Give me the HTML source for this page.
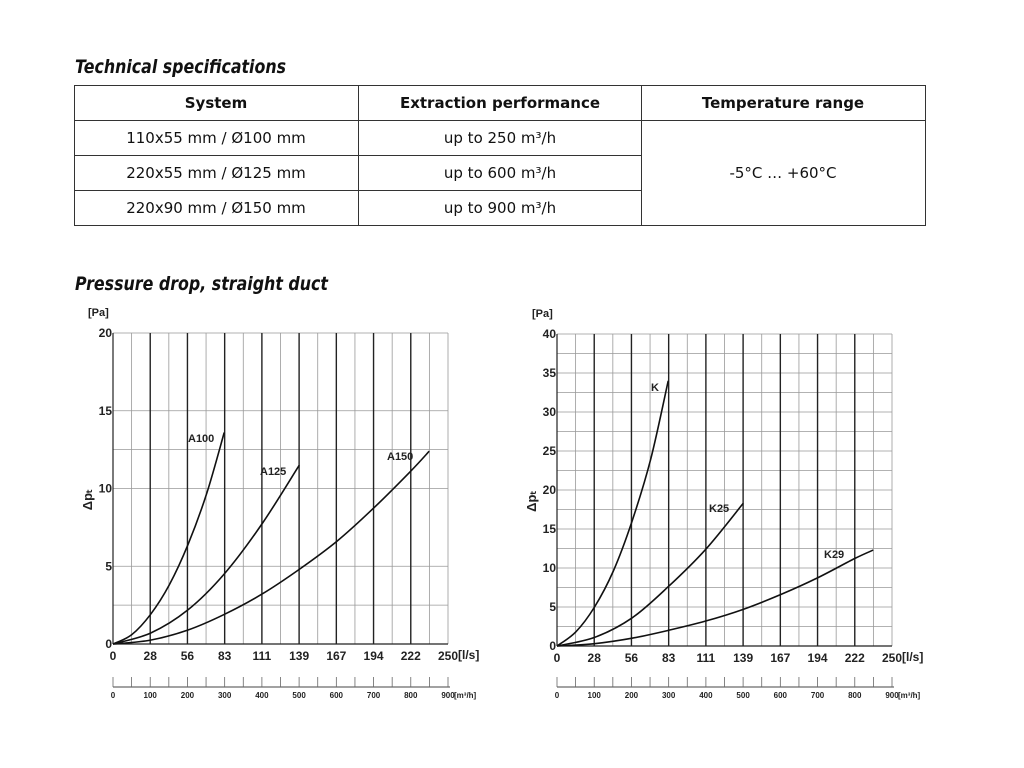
<!DOCTYPE html>
<html><head><meta charset="utf-8"><style>
body{margin:0;background:#fff;}
svg{display:block;font-family:"Liberation Sans",sans-serif;}
.t{font-family:"DejaVu Sans","Liberation Sans",sans-serif;}
</style></head><body>
<svg width="1024" height="768" viewBox="0 0 1024 768" xmlns="http://www.w3.org/2000/svg">
<text x="75" y="73" font-size="19" font-weight="bold" font-style="italic" class="t" fill="#111" textLength="211" lengthAdjust="spacingAndGlyphs">Technical specifications</text>
<g stroke="#333" stroke-width="1" fill="none">
<rect x="74.5" y="85.5" width="851" height="140"/>
<line x1="74" y1="120.5" x2="926" y2="120.5"/>
<line x1="74" y1="155.5" x2="641" y2="155.5"/>
<line x1="74" y1="190.5" x2="641" y2="190.5"/>
<line x1="358.5" y1="85" x2="358.5" y2="226"/>
<line x1="641.5" y1="85" x2="641.5" y2="226"/>
</g>
<g font-size="15" text-anchor="middle" fill="#111" class="t">
<text x="216" y="108" font-weight="bold">System</text>
<text x="500" y="108" font-weight="bold">Extraction performance</text>
<text x="783" y="108" font-weight="bold">Temperature range</text>
<text x="216" y="143">110x55 mm / Ø100 mm</text>
<text x="216" y="178">220x55 mm / Ø125 mm</text>
<text x="216" y="213">220x90 mm / Ø150 mm</text>
<text x="500" y="143">up to 250 m³/h</text>
<text x="500" y="178">up to 600 m³/h</text>
<text x="500" y="213">up to 900 m³/h</text>
<text x="783" y="178">-5°C … +60°C</text>
</g>
<text x="75" y="290" font-size="19" font-weight="bold" font-style="italic" class="t" fill="#111" textLength="253" lengthAdjust="spacingAndGlyphs">Pressure drop, straight duct</text>
<g id="charts"></g>
<rect x="0" y="722" width="1024" height="46" fill="#fff"/>
</svg>
<script>
var NS="http://www.w3.org/2000/svg",root=document.getElementById("charts");
function el(n,a,t){var e=document.createElementNS(NS,n);for(var k in a)e.setAttribute(k,a[k]);if(t!==undefined)e.textContent=t;root.appendChild(e);return e;}
function chart(x0,y0,ytop,ymax,ystep,hl,curves,names){
 var W=335,H=y0-ytop,sx=W/250,sy=H/ymax;
 hl.forEach(function(v){var y=y0-v*sy;el("line",{x1:x0,x2:x0+W,y1:y,y2:y,stroke:"#999","stroke-width":0.8});});
 for(var i=0;i<=18;i++){var x=x0+i*W/18;var th=(i%2==0&&i>0&&i<18);el("line",{x1:x,x2:x,y1:ytop,y2:y0,stroke:th?"#222":"#999","stroke-width":th?1.4:0.8});}
 el("line",{x1:x0,x2:x0,y1:ytop,y2:y0,stroke:"#222","stroke-width":1.2});
 el("line",{x1:x0,x2:x0+W,y1:y0,y2:y0,stroke:"#222","stroke-width":1.2});
 for(var v=0;v<=ymax;v+=ystep){el("text",{x:x0-1,y:y0-v*sy+4,"font-size":12,"font-weight":"bold","text-anchor":"end",fill:"#222"},String(v));}
 var xl=[0,28,56,83,111,139,167,194,222,250];
 for(var i=0;i<10;i++)el("text",{x:x0+i*W/9,y:y0+16,"font-size":12,"font-weight":"bold","text-anchor":"middle",fill:"#222"},String(xl[i]));
 el("text",{x:x0+W+10,y:y0+15,"font-size":12,"font-weight":"bold",fill:"#222"},"[l/s]");
 el("text",{x:x0-25,y:ytop-17,"font-size":11,"font-weight":"bold",fill:"#222"},"[Pa]");
 el("text",{x:0,y:0,"font-size":13,"font-weight":"bold",fill:"#222",transform:"translate("+(x0-21)+","+(ytop+H*0.57)+") rotate(-90)"},"Δpₜ");
 var ya=687;el("line",{x1:x0,x2:x0+W+2,y1:ya,y2:ya,stroke:"#444","stroke-width":1});
 for(var i=0;i<=18;i++){var x=x0+i*W/18;el("line",{x1:x,x2:x,y1:ya-10,y2:ya,stroke:"#666","stroke-width":0.8});}
 for(var i=0;i<=9;i++)el("text",{x:x0+i*W/9,y:ya+11,"font-size":8,"font-weight":"bold","text-anchor":"middle",fill:"#222"},String(i*100));
 el("text",{x:x0+W+6,y:ya+11,"font-size":8,"font-weight":"bold",fill:"#222"},"[m³/h]");
 el("text",{x:x0+170,y:730,"font-size":13,"font-weight":"bold","text-anchor":"middle",fill:"#222"},"q");
 curves.forEach(function(c,ci){
  var p=c.map(function(q){return[x0+q[0]*sx,y0-q[1]*sy];});var d="M"+p[0];
  for(var i=0;i<p.length-1;i++){var a=p[i-1]||p[i],b=p[i],e=p[i+1],f=p[i+2]||e;
   d+="C"+(b[0]+(e[0]-a[0])/6)+","+(b[1]+(e[1]-a[1])/6)+" "+(e[0]-(f[0]-b[0])/6)+","+(e[1]-(f[1]-b[1])/6)+" "+e[0]+","+e[1];}
  el("path",{d:d,fill:"none",stroke:"#111","stroke-width":1.6});
  el("text",{x:names[ci][1],y:names[ci][2],"font-size":11,"font-weight":"bold",fill:"#222"},names[ci][0]);
 });
}
chart(113,644,333,20,5,[0,2.5,5,10,12.5,15,20],[
 [[0,0],[14,0.6],[28,1.9],[42,3.8],[56,6.4],[70,9.7],[83,13.6]],
 [[0,0],[28,0.7],[56,2.2],[83,4.5],[111,7.7],[139,11.5]],
 [[0,0],[28,0.25],[56,0.9],[83,1.9],[111,3.2],[139,4.8],[167,6.6],[194,8.7],[222,11.1],[236,12.4]]
],[["A100",188,442],["A125",260,475],["A150",387,460]]);
chart(557,646,334,40,5,[0,2.5,5,7.5,10,12.5,15,17.5,20,22.5,25,27.5,30,32.5,35,37.5,40],[
 [[0,0],[14,1.8],[28,5],[42,9.6],[56,16],[70,24],[83,34]],
 [[0,0],[28,1.1],[56,3.6],[83,7.6],[111,12.4],[139,18.3]],
 [[0,0],[28,0.3],[56,1],[83,2],[111,3.2],[139,4.7],[167,6.6],[194,8.7],[222,11.2],[236,12.3]]
],[["K",651,391],["K25",709,512],["K29",824,558]]);
</script>
</body></html>
